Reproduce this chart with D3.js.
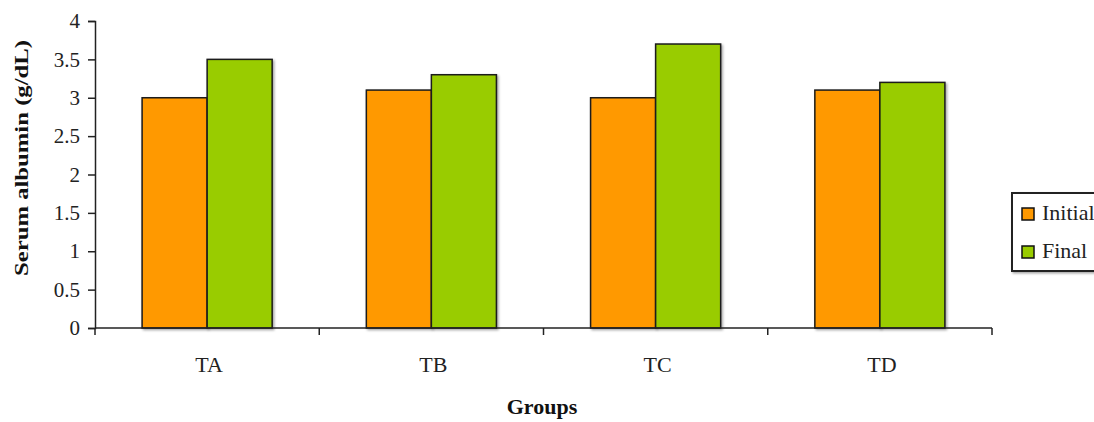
<!DOCTYPE html>
<html>
<head>
<meta charset="utf-8">
<script src="https://cdn.jsdelivr.net/npm/d3@7"></script>
<style>
  html, body { margin: 0; padding: 0; background: #fff; }
  svg { display: block; }
  text { font-family: "Liberation Serif", "Times New Roman", serif; }
</style>
</head>
<body>
<svg id="chart" width="1094" height="422"></svg>
<script>
// Serum albumin by group, initial vs final
const groups = ["TA", "TB", "TC", "TD"];
const seriesNames = ["Initial", "Final"];
const initialValues = [3.0, 3.1, 3.0, 3.1];
const finalValues = [3.5, 3.3, 3.7, 3.2];
const yTicks = [0, 0.5, 1, 1.5, 2, 2.5, 3, 3.5, 4];
const colors = ["#FF9900", "#99CC00"];

const svg = d3.select("#chart");

const plot = { left: 95, right: 992, top: 21, bottom: 328 };

const x = d3.scaleBand()
  .domain(groups)
  .range([plot.left, plot.right])
  .paddingInner(0.42)
  .paddingOuter(0.21);

const xs = d3.scaleBand()
  .domain(seriesNames)
  .range([0, x.bandwidth()]);

const y = d3.scaleLinear()
  .domain([0, 4])
  .range([plot.bottom, plot.top]);

// soft shadow for bars and legend
const defs = svg.append("defs");
const f = defs.append("filter").attr("id", "shadow")
  .attr("x", "-10%").attr("y", "-10%").attr("width", "130%").attr("height", "130%");
f.append("feDropShadow").attr("dx", 1.5).attr("dy", 1.5)
  .attr("stdDeviation", 1).attr("flood-color", "#000").attr("flood-opacity", 0.35);

const rows = groups.map((g, i) => ({ group: g, values: [initialValues[i], finalValues[i]] }));

// bars
const gBars = svg.append("g");
rows.forEach(r => {
  r.values.forEach((v, j) => {
    gBars.append("rect")
      .attr("x", x(r.group) + xs(seriesNames[j]))
      .attr("y", y(v))
      .attr("width", xs.bandwidth())
      .attr("height", y(0) - y(v))
      .attr("fill", colors[j])
      .attr("stroke", "#1a1a1a")
      .attr("stroke-width", 1.5)
      .attr("filter", "url(#shadow)");
  });
});

// y axis
const yAxis = d3.axisLeft(y)
  .tickValues(yTicks)
  .tickFormat(d => String(d))
  .tickSize(7)
  .tickPadding(8);
const gy = svg.append("g")
  .attr("transform", `translate(${plot.left},0)`)
  .call(yAxis);
gy.select(".domain").attr("stroke", "#222").attr("stroke-width", 1.5);
gy.selectAll(".tick line").attr("stroke", "#222").attr("stroke-width", 1.5);
gy.selectAll(".tick text")
  .attr("font-size", 21)
  .attr("fill", "#222")
  .style("font-family", "'Liberation Serif', serif");

// x axis: baseline with ticks between categories
const step = x.step();
const boundaries = d3.range(groups.length + 1).map(i => plot.left + i * step);
const gx = svg.append("g");
gx.append("line")
  .attr("x1", plot.left).attr("x2", plot.right)
  .attr("y1", plot.bottom).attr("y2", plot.bottom)
  .attr("stroke", "#222").attr("stroke-width", 1.5);
gx.selectAll("line.tick").data(boundaries).enter().append("line")
  .attr("class", "tick")
  .attr("x1", d => d).attr("x2", d => d)
  .attr("y1", plot.bottom).attr("y2", plot.bottom + 7)
  .attr("stroke", "#222").attr("stroke-width", 1.5);
gx.selectAll("text").data(groups).enter().append("text")
  .attr("x", d => x(d) + x.bandwidth() / 2 + 2)
  .attr("y", 372)
  .attr("text-anchor", "middle")
  .attr("font-size", 22)
  .attr("fill", "#222")
  .text(d => d);

// axis titles
svg.append("text")
  .attr("x", 542).attr("y", 414)
  .attr("text-anchor", "middle")
  .attr("font-size", 22)
  .attr("font-weight", "bold")
  .attr("fill", "#111")
  .text("Groups");

svg.append("text")
  .attr("transform", `translate(28,158) rotate(-90)`)
  .attr("text-anchor", "middle")
  .attr("font-size", 19)
  .attr("font-weight", "bold")
  .attr("fill", "#111")
  .attr("textLength", 236)
  .attr("lengthAdjust", "spacingAndGlyphs")
  .text("Serum albumin (g/dL)");

// legend
const legend = svg.append("g");
legend.append("rect")
  .attr("x", 1012).attr("y", 193)
  .attr("width", 110).attr("height", 78)
  .attr("fill", "#fff")
  .attr("stroke", "#222").attr("stroke-width", 2)
  .attr("filter", "url(#shadow)");
seriesNames.forEach((name, j) => {
  const cy = 214 + j * 38;
  legend.append("rect")
    .attr("x", 1022).attr("y", cy - 6)
    .attr("width", 12).attr("height", 12)
    .attr("fill", colors[j])
    .attr("stroke", "#111").attr("stroke-width", 1.5);
  legend.append("text")
    .attr("x", 1042).attr("y", cy + 6)
    .attr("font-size", 22)
    .attr("fill", "#222")
    .text(name);
});
</script>
</body>
</html>
